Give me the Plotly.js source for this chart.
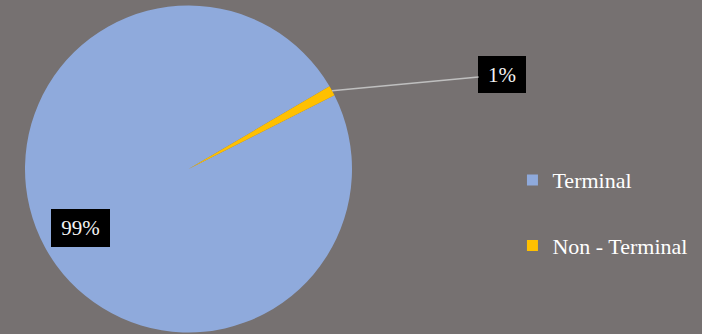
<!DOCTYPE html>
<html>
<head>
<meta charset="utf-8">
<script src="https://cdn.plot.ly/plotly-3.0.1.min.js"></script>
<style>
html,body{margin:0;padding:0;background:#767171;}
#chart{width:702px;height:334px;}
</style>
</head>
<body>
<div id="chart"></div>
<script>
var categories = ["Terminal", "Non - Terminal"];
var values = [99, 1];
var colors = ["#8FAADC", "#FFC000"];

var W = 702, H = 334;
var rotation = 63.2;
var domX = [25 / W, 352 / W];
var domY = [1.5 / H, 328.5 / H];
var FONT = "Liberation Serif";

var total = values.reduce(function (a, b) { return a + b; }, 0);
var pctText = values.map(function (v) { return Math.round(v / total * 100) + "%"; });

// pie geometry (pixels, y down)
var cx = (domX[0] + domX[1]) / 2 * W;
var cy = (1 - (domY[0] + domY[1]) / 2) * H;
var R = Math.min((domX[1] - domX[0]) * W, (domY[1] - domY[0]) * H) / 2;

// mid angles (clockwise from 12 o'clock)
var mids = [];
var acc = rotation;
values.forEach(function (v) {
  var span = v / total * 360;
  mids.push(acc + span / 2);
  acc += span;
});
function pt(angleDeg, rr) {
  var a = angleDeg * Math.PI / 180;
  return [cx + rr * Math.sin(a), cy - rr * Math.cos(a)];
}

var traces = [{
  type: "pie",
  labels: categories,
  values: values,
  sort: false,
  direction: "clockwise",
  rotation: rotation,
  marker: { colors: colors, line: { width: 0 } },
  textinfo: "none",
  hoverinfo: "label+percent",
  showlegend: false,
  domain: { x: domX, y: domY }
}];
// legend entries
categories.forEach(function (c, i) {
  traces.push({
    type: "scatter", mode: "markers", x: [null], y: [null],
    name: c, legendgroup: "g" + i,
    marker: { symbol: "square", size: 11, color: colors[i] },
    hoverinfo: "skip"
  });
});

var p0 = pt(mids[0], 0.75 * R);
var p1 = pt(mids[1], R);
var annotations = [
  {
    xref: "paper", yref: "paper",
    x: p0[0] / W, y: 1 - p0[1] / H,
    xanchor: "center", yanchor: "middle",
    text: pctText[0], showarrow: false,
    font: { family: FONT, size: 21, color: "#F2F2F2" },
    bgcolor: "#000000", bordercolor: "#000000", borderwidth: 1, borderpad: 0,
    width: 57, height: 36
  },
  {
    xref: "paper", yref: "paper",
    x: p1[0] / W, y: 1 - p1[1] / H,
    ax: 170, ay: -16,
    text: pctText[1], showarrow: true, arrowhead: 0, arrowwidth: 1.5,
    arrowcolor: "#BFBFBF", standoff: 0,
    font: { family: FONT, size: 21, color: "#F2F2F2" },
    bgcolor: "#000000", bordercolor: "#000000", borderwidth: 1, borderpad: 0,
    width: 46, height: 35
  }
];

var layout = {
  width: W, height: H,
  margin: { l: 0, r: 0, t: 0, b: 0 },
  paper_bgcolor: "#767171",
  plot_bgcolor: "#767171",
  xaxis: { visible: false },
  yaxis: { visible: false },
  showlegend: true,
  legend: {
    x: 0.73, y: 0.362, xanchor: "left", yanchor: "middle",
    bgcolor: "rgba(0,0,0,0)",
    font: { family: FONT, size: 22, color: "#FFFFFF" },
    tracegroupgap: 34,
    itemclick: false, itemdoubleclick: false
  },
  annotations: annotations
};

Plotly.newPlot("chart", traces, layout, { displayModeBar: false, staticPlot: true });
</script>
</body>
</html>
